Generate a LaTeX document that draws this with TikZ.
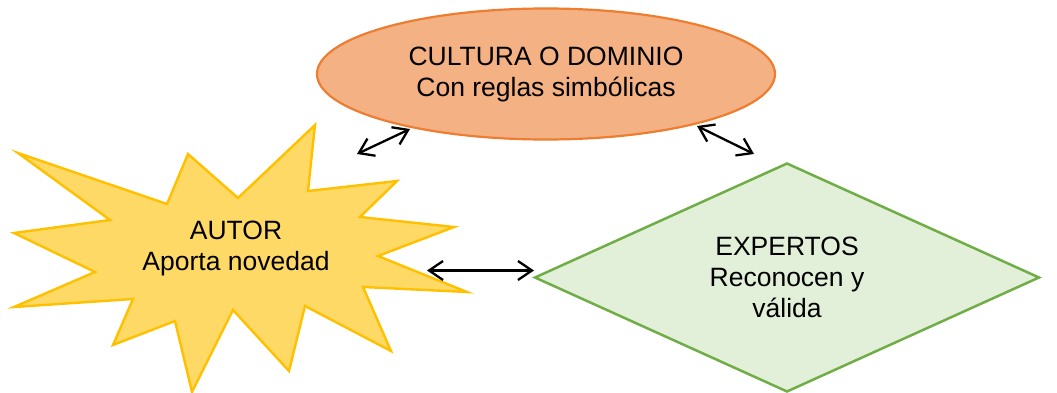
\documentclass[tikz,border=0pt]{standalone}
\usepackage{fontspec}
\setmainfont{Liberation Sans}
\usetikzlibrary{shapes.geometric,arrows.meta}
\definecolor{ellfill}{HTML}{F4B183}
\definecolor{ellline}{HTML}{ED7D31}
\definecolor{starfill}{HTML}{FFD966}
\definecolor{starline}{HTML}{FFC000}
\definecolor{diafill}{HTML}{E2F0D9}
\definecolor{dialine}{HTML}{70AD47}
\begin{document}
\begin{tikzpicture}[x=1pt,y=-1pt,
  lbl/.style={font=\fontsize{26.5}{31}\selectfont, align=center, inner sep=0pt},
  link/.style={line width=2.3pt, {Straight Barb[length=14pt,width=19pt]}-{Straight Barb[length=14pt,width=19pt]}}]
\useasboundingbox (0,0) rectangle (1057,393);
% ellipse
\node[ellipse, draw=ellline, fill=ellfill, line width=2.2pt, minimum width=458pt,
      minimum height=131pt, lbl] (cult) at (546,74)
      {CULTURA O DOMINIO\\Con reglas simbólicas};
% star
\draw[draw=starline, fill=starfill, line width=2.4pt]
  (18,153) -- (167,204) -- (188,154) -- (238,198) -- (315,125) -- (308,191)
  -- (397,181) -- (360,217) -- (454,227) -- (378,256) -- (467,292) -- (363,287)
  -- (391,351) -- (305,306) -- (289,371) -- (233,310) -- (192,392) -- (175,321)
  -- (113,345) -- (133,299) -- (14,307) -- (95,272) -- (14,233) -- (110,220) -- cycle;
\node[lbl] (autor) at (236,248) {AUTOR\\Aporta novedad};
% diamond
\node[diamond, aspect=2.2, draw=dialine, fill=diafill, line width=2.5pt,
      minimum width=505pt, minimum height=229pt, lbl] (exp) at (787,277.5)
      {EXPERTOS\\Reconocen y\\válida};
% arrows
\coordinate (a1s) at (357,154);
\coordinate (a1e) at (410,129);
\coordinate (a2s) at (697,126);
\coordinate (a2e) at (754,154);
\coordinate (a3s) at (427,270.5);
\coordinate (a3e) at (534,270.5);
\draw[link] (a1s) -- (a1e);
\draw[link] (a2s) -- (a2e);
\draw[link] (a3s) -- (a3e);
\end{tikzpicture}
\end{document}
